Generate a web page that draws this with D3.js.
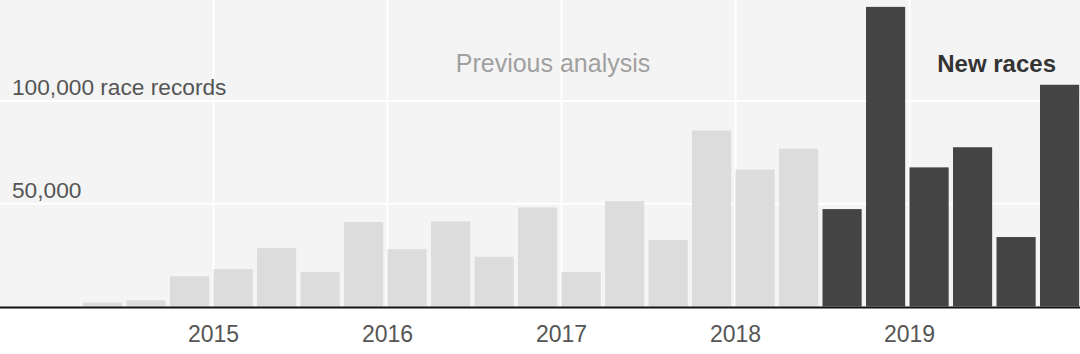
<!DOCTYPE html>
<html lang="en">
  <head>
    <meta charset="utf-8">
    <title>Race records</title>
    <script src="https://d3js.org/d3.v7.min.js"></script>
    <style>
      body { margin: 0; background: #fff; }
      text { font-family: "Liberation Sans", Arial, sans-serif; }
    </style>
  </head>
  <body>
    <script>
      // quarters from 2014 Q1 to 2019 Q4
      var quarters = [
        "2014Q1","2014Q2","2014Q3","2014Q4",
        "2015Q1","2015Q2","2015Q3","2015Q4",
        "2016Q1","2016Q2","2016Q3","2016Q4",
        "2017Q1","2017Q2","2017Q3","2017Q4",
        "2018Q1","2018Q2","2018Q3","2018Q4",
        "2019Q1","2019Q2","2019Q3","2019Q4"
      ];
      var records = [
        0, 1900, 3000, 14700,
        18200, 28400, 16800, 41100,
        27900, 41400, 24200, 48200,
        16800, 51300, 32300, 85600,
        66600, 76800, 47400, 145800,
        67700, 77500, 33800, 107900
      ];
      // first quarter counted as "new races"
      var newFrom = "2018Q3";
      var yearLabels = ["2015","2016","2017","2018","2019"];
      var yTicks = [50000, 100000];

      var w = 1080, h = 354;
      var baseY = 306.5;

      var svg = d3.select("body").append("svg")
        .attr("width", w)
        .attr("height", h);

      var x = d3.scaleBand()
        .domain(quarters)
        .range([39.5, 1079.15])
        .paddingInner(0.1)
        .paddingOuter(0);

      var y = d3.scaleLinear()
        .domain([0, 100000])
        .range([baseY, 101]);

      // panel
      svg.append("rect")
        .attr("x", 0).attr("y", 0)
        .attr("width", w).attr("height", baseY)
        .attr("fill", "#f4f4f4");

      // gridlines
      svg.selectAll(".hgrid")
        .data(yTicks)
        .enter().append("line")
        .attr("x1", 0).attr("x2", w)
        .attr("y1", function(d){ return y(d); })
        .attr("y2", function(d){ return y(d); })
        .attr("stroke", "#fff")
        .attr("stroke-width", 2);

      svg.selectAll(".vgrid")
        .data(yearLabels)
        .enter().append("line")
        .attr("x1", function(d){ return x(d + "Q1"); })
        .attr("x2", function(d){ return x(d + "Q1"); })
        .attr("y1", 0).attr("y2", baseY)
        .attr("stroke", "#fff")
        .attr("stroke-width", 2);

      // bars
      var newIdx = quarters.indexOf(newFrom);
      svg.selectAll(".bar")
        .data(records)
        .enter().append("rect")
        .attr("x", function(d, i){ return x(quarters[i]); })
        .attr("y", function(d){ return y(d); })
        .attr("width", x.bandwidth())
        .attr("height", function(d){ return baseY - y(d); })
        .attr("fill", function(d, i){ return i >= newIdx ? "#444444" : "#dcdcdc"; });

      // baseline
      svg.append("line")
        .attr("x1", 0).attr("x2", w)
        .attr("y1", baseY + 1).attr("y2", baseY + 1)
        .attr("stroke", "#111")
        .attr("stroke-width", 2);

      // y labels
      svg.selectAll(".ylab")
        .data(yTicks)
        .enter().append("text")
        .attr("x", 12)
        .attr("y", function(d){ return y(d) - 6; })
        .attr("fill", "#555")
        .style("font-size", "22.7px")
        .text(function(d){
          return d3.format(",")(d) + (d === 100000 ? " race records" : "");
        });

      // year labels
      svg.selectAll(".xlab")
        .data(yearLabels)
        .enter().append("text")
        .attr("x", function(d){ return x(d + "Q1"); })
        .attr("y", 342)
        .attr("text-anchor", "middle")
        .attr("fill", "#555")
        .style("font-size", "23px")
        .text(function(d){ return d; });

      // annotations
      svg.append("text")
        .attr("x", 553).attr("y", 72)
        .attr("text-anchor", "middle")
        .attr("fill", "#a0a0a0")
        .style("font-size", "25px")
        .text("Previous analysis");

      svg.append("text")
        .attr("x", 1056).attr("y", 72)
        .attr("text-anchor", "end")
        .attr("fill", "#333")
        .style("font-size", "24px")
        .style("font-weight", "bold")
        .text("New races");
    </script>
  </body>
</html>
